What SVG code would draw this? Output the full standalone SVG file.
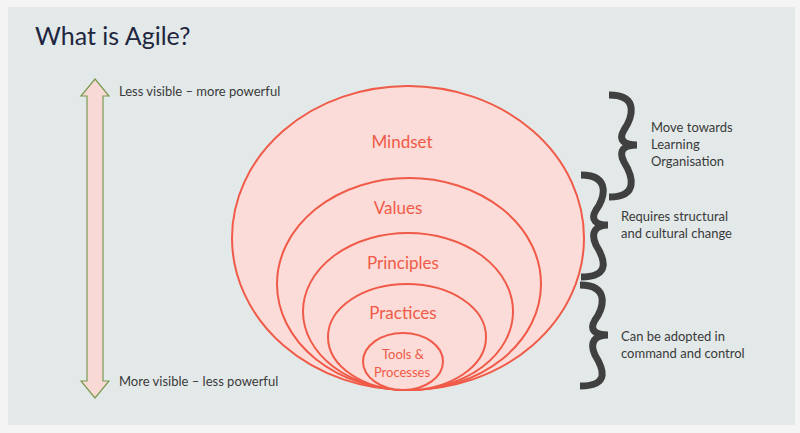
<svg xmlns="http://www.w3.org/2000/svg" width="800" height="433" viewBox="0 0 800 433">
<style>
.e{fill:#fbdcd8;stroke:#f05a48;stroke-width:2}
.l{font-family:Lato,"Open Sans",sans-serif;fill:#f05a48;text-anchor:middle}
.t{font-family:Lato,"Open Sans",sans-serif;fill:#3a3a3a;font-size:13px}
.b{fill:none;stroke:#404040;stroke-width:7}
</style>
<rect width="800" height="433" fill="#f4f4f4"/>
<rect x="8" y="7" width="787" height="418" fill="#e3e9e9"/>
<text x="35" y="45" font-family="Lato,'Open Sans',sans-serif" font-size="25" fill="#1e2640">What is Agile?</text>
<g id="arrow"><path d="M95,79 L109,96 L103,96 L103,381 L109,381 L95,398 L81,381 L87,381 L87,96 L81,96 Z" fill="#f9d9d6" stroke="#7a9a50" stroke-width="1.2"/></g>
<g id="labels-left">
<text class="t" x="119" y="96">Less visible – more powerful</text>
<text class="t" x="119" y="386">More visible – less powerful</text>
</g>
<g id="mindset"><ellipse class="e" cx="408" cy="238" rx="176" ry="152"/><text class="l" x="402" y="148" font-size="17">Mindset</text></g>
<g id="values"><ellipse class="e" cx="409" cy="284" rx="132" ry="106"/><text class="l" x="398" y="214" font-size="17">Values</text></g>
<g id="principles"><ellipse class="e" cx="408" cy="311.5" rx="105" ry="78.5"/><text class="l" x="403" y="269" font-size="17">Principles</text></g>
<g id="practices"><ellipse class="e" cx="407" cy="337" rx="79" ry="53"/><text class="l" x="403" y="319" font-size="17">Practices</text></g>
<g id="tools"><ellipse class="e" cx="403" cy="361.5" rx="40" ry="28.5"/><text class="l" x="403" y="359" font-size="13">Tools &amp;</text><text class="l" x="402" y="377" font-size="13">Processes</text></g>
<g id="braces">
<path class="b" d="M609,95 C640,95 632,118 624,130 C618,140 624,145 637,145 C624,145 618,150 624,162 C632,175 640,197 609,197"/>
<path class="b" d="M581,175 C612,175 604,200 596,210 C590,220 596,225 608,225 C596,225 590,232 596,245 C604,258 612,277 581,277"/>
<path class="b" d="M580,285 C611,285 603,310 595,320 C589,330 595,335 608,335 C595,335 589,342 595,355 C603,368 611,386 580,386"/>
</g>
<g id="labels-right">
<text class="t" x="651" y="132">Move towards</text>
<text class="t" x="651" y="149">Learning</text>
<text class="t" x="651" y="166">Organisation</text>
<text class="t" x="621" y="221">Requires structural</text>
<text class="t" x="621" y="238">and cultural change</text>
<text class="t" x="621" y="341">Can be adopted in</text>
<text class="t" x="621" y="358">command and control</text>
</g>
</svg>
